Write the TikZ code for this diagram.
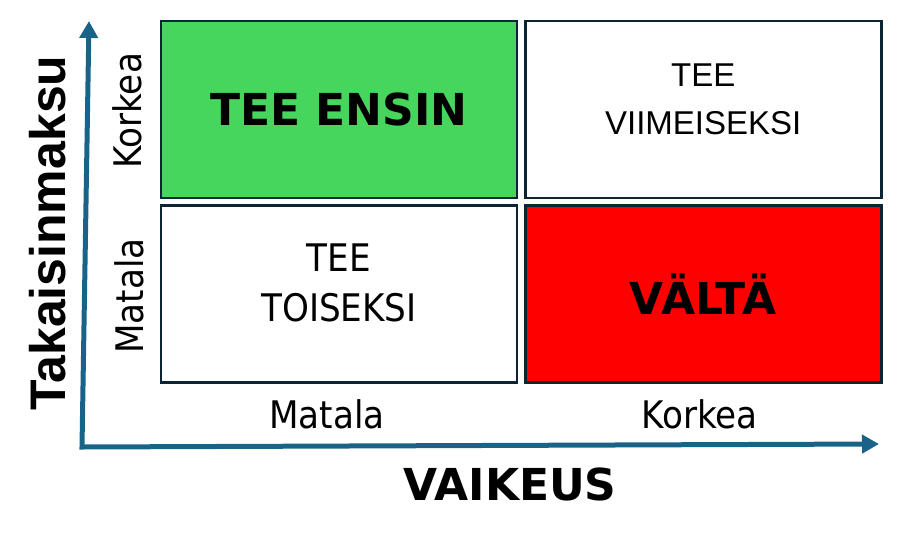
\documentclass[tikz,border=0pt]{standalone}
\usepackage{fontspec}
\setmainfont{DejaVu Sans}
\newfontfamily\narrowfont{DejaVu Sans Condensed}
\newfontfamily\grotfont{Liberation Sans}
\usetikzlibrary{arrows.meta,positioning}
\definecolor{axiscol}{HTML}{1A6388}
\definecolor{edgecol}{HTML}{0B2535}
\definecolor{firstcol}{HTML}{47D65D}
\definecolor{avoidcol}{HTML}{FF0000}
\tikzstyle{axis} = [draw=axiscol, line width=5pt, {Triangle[length=17pt,width=18pt]}-{Triangle[length=17pt,width=18pt]}]
\tikzstyle{side label} = [inner sep=0pt, font=\narrowfont\fontsize{38}{46}\selectfont]
\tikzstyle{big label} = [inner sep=0pt, font=\bfseries\fontsize{44}{50}\selectfont]
\tikzset{
  quad box/.style = {
    shape = rectangle,
    draw = edgecol,
    fill = #1,
    line width = 2.7pt,
    inner sep = 0pt,
    minimum width = 356pt,
    minimum height = 177pt,
    },
  two lines/.style = {
    inner sep = 0pt,
    align = center,
    },
  axis title/.style = {
    inner sep = 0pt,
    font = \grotfont\bfseries\fontsize{50}{56}\selectfont},
}

\begin{document}
\begin{tikzpicture}[x=1pt,y=-1pt]
    \useasboundingbox (0,0) rectangle (900,544);

    % quadrants
    \node [quad box=firstcol, big label] (first) at (339,109.4) {TEE ENSIN};
    \node [quad box=white, right=5.5pt of first] (last) {};
    \node [quad box=white, below=4.8pt of first] (second) {};
    \node [quad box=avoidcol, big label, right=5.5pt of second] (avoid) {VÄLTÄ};

    \node [two lines, font=\grotfont\fontsize{33}{48}\selectfont]
        (lasttext) at ([yshift=10pt]last.center) {TEE\\VIIMEISEKSI};
    \node [two lines, font=\narrowfont\fontsize{38}{50}\selectfont]
        (secondtext) at ([yshift=10.5pt]second.center) {TEE\\TOISEKSI};

    % axes
    \coordinate (ytip) at (89,21);
    \coordinate (origin) at (82,447);
    \coordinate (xtip) at (879,444);
    \draw [axis] (ytip) -- (origin) -- (xtip);

    % labels
    \node [side label, rotate=90, anchor=base] (payhigh) at (141,111) {Korkea};
    \node [side label, rotate=90, anchor=base] (paylow) at (143,296) {Matala};
    \node [axis title, rotate=90, anchor=base] (payoff) at (65,233) {Takaisinmaksu};

    \node [side label, anchor=base] (difflow) at (327,428) {Matala};
    \node [side label, anchor=base] (diffhigh) at (699.5,428) {Korkea};
    \node [big label, anchor=base] (difficulty) at (510,500) {VAIKEUS};
\end{tikzpicture}
\end{document}
